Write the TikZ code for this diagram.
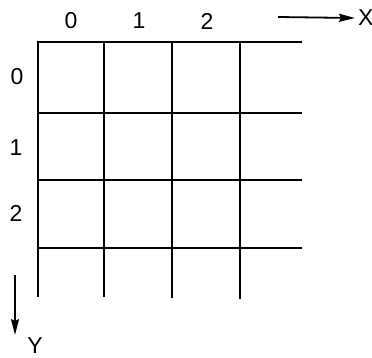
\documentclass[tikz,border=0pt]{standalone}
\usepackage{fontspec}
\setmainfont{Liberation Sans}
\usetikzlibrary{arrows.meta,positioning}

\begin{document}
\begin{tikzpicture}[
    x=1pt, y=-1pt,
    >={Stealth[length=16pt,width=8pt,inset=2pt]},
    gridline/.style={line width=2.2pt},
    idx/.style={font=\fontsize{23}{27}\selectfont, inner sep=1pt},
    axis/.style={->, line width=1.8pt}
]
    \useasboundingbox (0,0) rectangle (372,357);

    % horizontal lines
    \draw[gridline] (37,42)  -- (302,42);
    \draw[gridline] (37,113) -- (302,113);
    \draw[gridline] (37,180) -- (302,180);
    \draw[gridline] (37,248) -- (302,248);

    % vertical lines
    \draw[gridline] (38,42)  -- (38,297);
    \draw[gridline] (104,42) -- (104,297);
    \draw[gridline] (172,42) -- (172,298);
    \draw[gridline] (240,42) -- (240,299);

    % column indices
    \node[idx] (col0) at (71,21)  {0};
    \node[idx] (col1) at (139,21) {1};
    \node[idx] (col2) at (207,21) {2};

    % row indices
    \node[idx] (row0) at (17,77)  {0};
    \node[idx] (row1) at (16,148) {1};
    \node[idx] (row2) at (16,213) {2};

    % axes
    \coordinate (xfrom) at (278,17);
    \node[idx, anchor=west, inner sep=0pt] (xname) at (358,18) {X};
    \draw[axis] (xfrom) -- ([xshift=-3pt]xname.west);

    \coordinate (yfrom) at (15,275);
    \coordinate (yto)   at (15,335);
    \node[idx, anchor=north, inner sep=0pt] (yname) at (35,337) {Y};
    \draw[axis] (yfrom) -- (yto);
\end{tikzpicture}
\end{document}
